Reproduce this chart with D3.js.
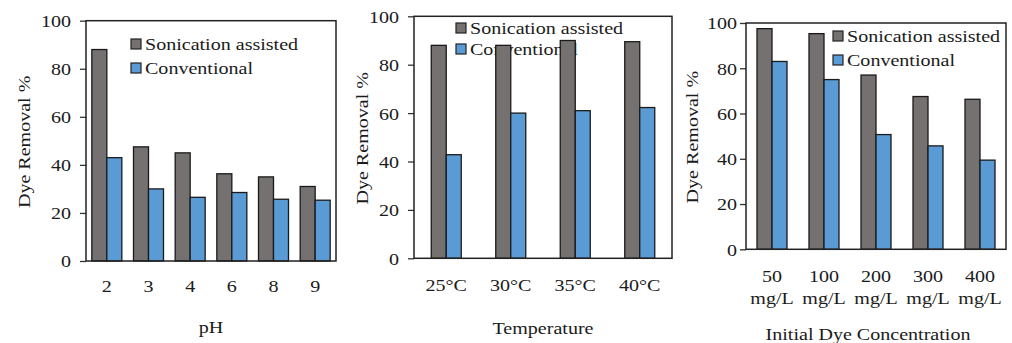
<!DOCTYPE html>
<html>
<head>
<meta charset="utf-8">
<script src="https://cdn.jsdelivr.net/npm/d3@7"></script>
<style>
  body { margin: 0; background: #fff; }
  text { font-family: "Liberation Serif", "Times New Roman", serif; fill: #1b1b1b; }
</style>
</head>
<body>
<svg id="chart" width="1012" height="343"></svg>
<script>
// data
var seriesNames = ['Sonication assisted', 'Conventional']
var yTicks = [0, 20, 40, 60, 80, 100]

var phCats = ['2', '3', '4', '6', '8', '9']
var phSonic = [88, 47.5, 45, 36.3, 35, 31]
var phConv = [43, 30, 26.5, 28.5, 25.7, 25.3]

var tempCats = ['25°C', '30°C', '35°C', '40°C']
var tempSonic = [88, 88, 90, 89.5]
var tempConv = [42.8, 60, 61, 62.3]

var concCats = ['50', '100', '200', '300', '400']
var concUnit = 'mg/L'
var concSonic = [97.5, 95.3, 77, 67.5, 66.3]
var concConv = [83, 75, 50.7, 45.7, 39.4]

var colors = ['#767171', '#5b9bd5']
var SX = 1.18   // text in the figure is stretched sideways
var FS = 17
var barW = 15

var svg = d3.select('#chart')

function tf(x, y, rot) {
  return 'translate(' + x + ',' + y + ')' + (rot ? ' rotate(-90)' : '') + ' scale(' + SX + ',1)'
}

function drawPanel(p, cats, sonic, conv, xTitle, labelLines) {
  var pad = 1 - 2 * barW * cats.length / (p.right - p.left)
  var x = d3.scaleBand().domain(cats).range([p.left, p.right])
            .paddingInner(pad).paddingOuter(pad / 2)
  var xs = d3.scaleBand().domain(seriesNames).range([0, x.bandwidth()])
  var y = d3.scaleLinear().domain([0, 100]).range([p.bottom, p.top])

  var g = svg.append('g')

  // y axis ticks + labels
  var ya = g.append('g')
      .attr('transform', 'translate(' + p.left + ',0)')
      .call(d3.axisLeft(y).tickValues(yTicks).tickSize(6).tickPadding(0))
  ya.attr('font-family', null).attr('font-size', FS)
  ya.select('.domain').remove()
  ya.selectAll('.tick line').attr('stroke', '#333').attr('stroke-width', 1.3)
  ya.selectAll('.tick text')
      .attr('x', 0).attr('dy', '0.35em').attr('fill', '#1b1b1b')
      .attr('transform', 'translate(' + (-p.yPad) + ',0) scale(' + SX + ',1)')

  // legend (sits behind the bars)
  var leg = g.selectAll('g.leg')
      .data(seriesNames)
      .enter().append('g')
      .attr('class', 'leg')
  leg.append('rect')
      .attr('x', p.legX)
      .attr('y', function (d, i) { return p.legY + i * p.legDy - 5 })
      .attr('width', 10).attr('height', 10)
      .attr('fill', function (d, i) { return colors[i] })
      .attr('stroke', '#222').attr('stroke-width', 1.2)
  leg.append('text')
      .attr('font-size', FS)
      .attr('dy', '0.35em')
      .attr('transform', function (d, i) { return tf(p.legX + 14, p.legY + i * p.legDy) })
      .text(function (d) { return d })

  // bars
  var rows = cats.map(function (c, i) { return { cat: c, vals: [sonic[i], conv[i]] } })
  g.selectAll('g.grp')
      .data(rows)
      .enter().append('g')
      .attr('class', 'grp')
      .attr('transform', function (d) { return 'translate(' + x(d.cat) + ',0)' })
    .selectAll('rect')
      .data(function (d) { return d.vals })
      .enter().append('rect')
      .attr('x', function (d, i) { return xs(seriesNames[i]) })
      .attr('y', function (d) { return y(d) })
      .attr('width', xs.bandwidth())
      .attr('height', function (d) { return y(0) - y(d) })
      .attr('fill', function (d, i) { return colors[i] })
      .attr('stroke', '#1a1a1a').attr('stroke-width', 1.3)

  // plot frame
  g.append('rect')
      .attr('x', p.left).attr('y', p.top)
      .attr('width', p.right - p.left).attr('height', p.bottom - p.top)
      .attr('fill', 'none').attr('stroke', '#222').attr('stroke-width', 1.5)

  // category labels
  var xl = g.selectAll('text.xlab')
      .data(cats)
      .enter().append('text')
      .attr('class', 'xlab')
      .attr('font-size', FS)
      .attr('text-anchor', 'middle')
      .attr('transform', function (d) { return tf(x(d) + x.bandwidth() / 2, p.bottom + p.labOff) })
  xl.selectAll('tspan')
      .data(function (d) { return labelLines(d) })
      .enter().append('tspan')
      .attr('x', 0)
      .attr('dy', function (d, i) { return i === 0 ? '0.35em' : 21.5 })
      .text(function (d) { return d })

  // axis titles
  g.append('text')
      .attr('font-size', FS).attr('text-anchor', 'middle').attr('dy', '0.35em')
      .attr('transform', tf((p.left + p.right) / 2 + p.titleShift, p.xTitleY))
      .text(xTitle)
  g.append('text')
      .attr('font-size', FS).attr('text-anchor', 'middle').attr('dy', '0.35em')
      .attr('transform', tf(p.yTitleX, (p.top + p.bottom) / 2 + 1, true))
      .text('Dye Removal %')
}

drawPanel({ left: 86, right: 336, top: 20.7, bottom: 261, yPad: 15, legX: 131, legY: 44, legDy: 24,
            labOff: 25, xTitleY: 327, titleShift: 0, yTitleX: 24 },
          phCats, phSonic, phConv, 'pH', function (d) { return [d] })

drawPanel({ left: 414, right: 672, top: 16.3, bottom: 258.3, yPad: 15, legX: 456, legY: 28, legDy: 21,
            labOff: 27, xTitleY: 328, titleShift: 0, yTitleX: 362 },
          tempCats, tempSonic, tempConv, 'Temperature', function (d) { return [d] })

drawPanel({ left: 746, right: 1006, top: 23, bottom: 249.3, yPad: 9, legX: 833, legY: 36, legDy: 24,
            labOff: 27, xTitleY: 334, titleShift: -8, yTitleX: 692.5 },
          concCats, concSonic, concConv, 'Initial Dye Concentration', function (d) { return [d, concUnit] })
</script>
</body>
</html>
